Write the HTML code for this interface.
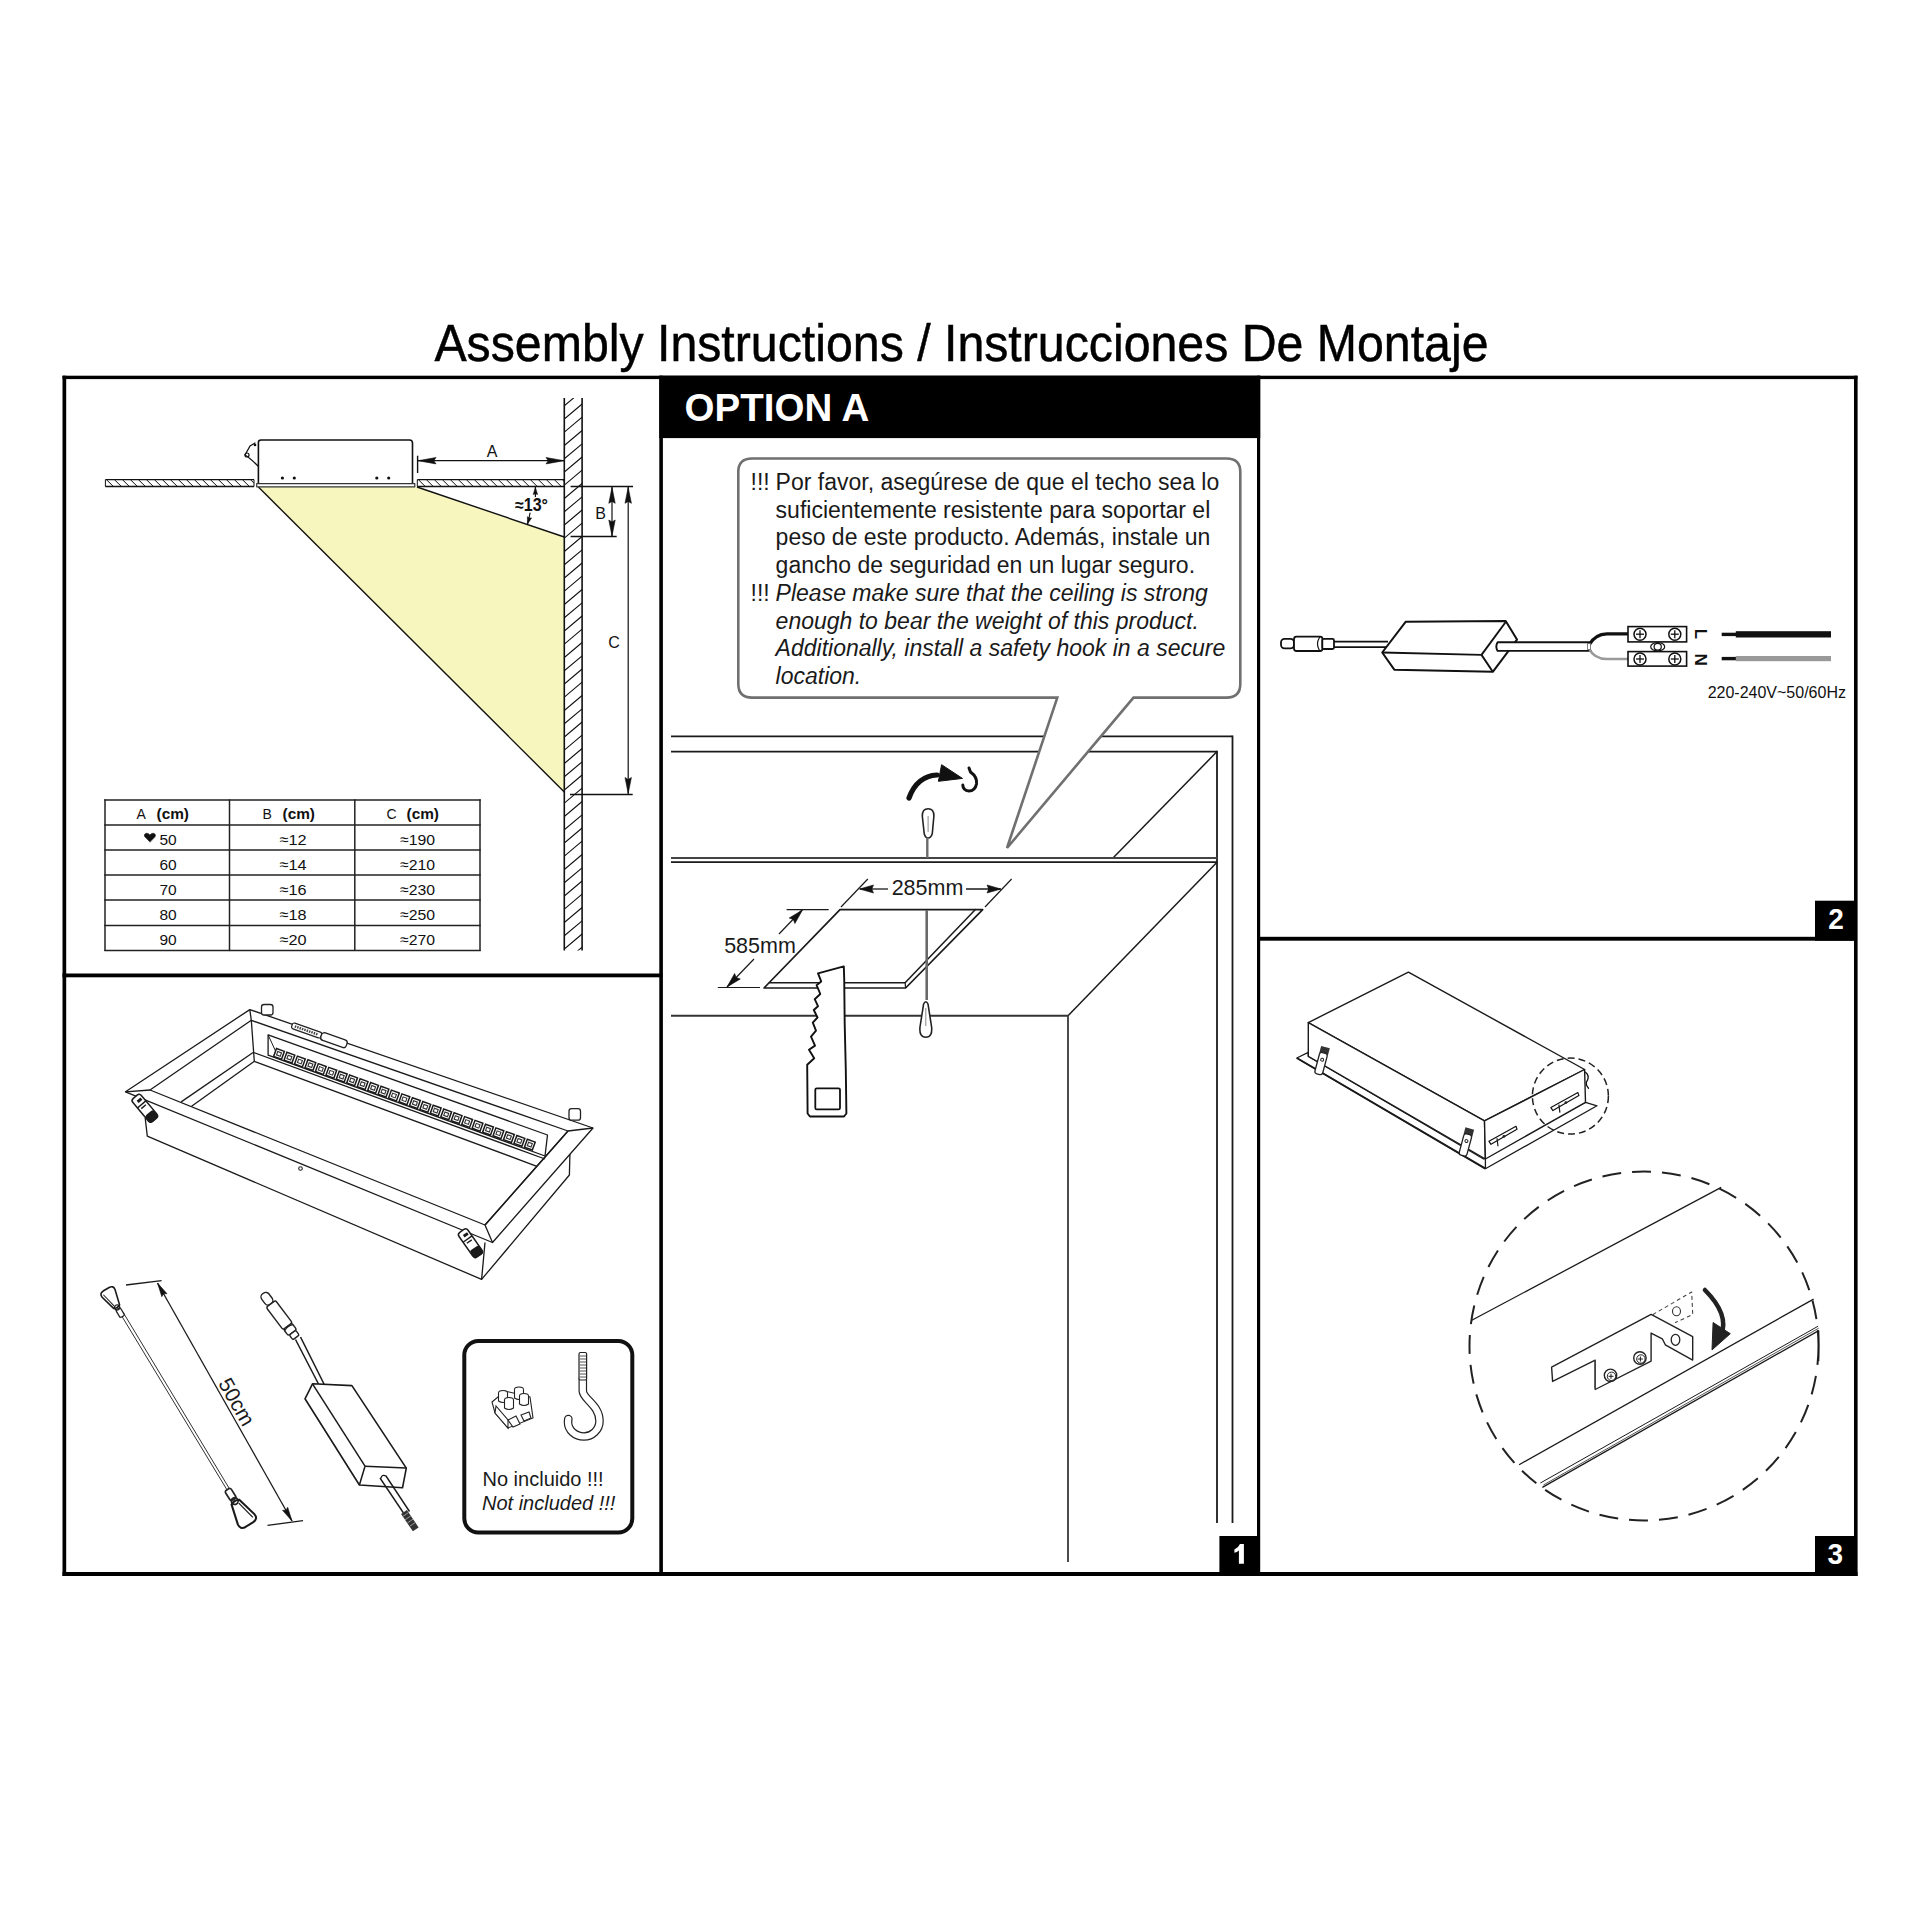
<!DOCTYPE html>
<html><head><meta charset="utf-8">
<style>
html,body{margin:0;padding:0;background:#fff;width:1920px;height:1920px;overflow:hidden}
svg{position:absolute;left:0;top:0;display:block}
text{font-family:"Liberation Sans",sans-serif}
</style></head>
<body>
<svg width="1920" height="1920" viewBox="0 0 1920 1920" xmlns="http://www.w3.org/2000/svg">
<rect x="0" y="0" width="1920" height="1920" fill="#fff"/>
<text x="0" y="0" font-size="48" fill="#000" stroke="#000" stroke-width="0.45" transform="translate(434.4 361.3) scale(1.0058 1.06)">Assembly Instructions / Instrucciones De Montaje</text>
<g fill="#000">
<rect x="62.5" y="375.7" width="1795" height="3.4"/>
<rect x="62.5" y="375.7" width="3.7" height="1200.3"/>
<rect x="1854" y="375.7" width="3.6" height="1200.3"/>
<rect x="62.5" y="1572" width="1795" height="4"/>
<rect x="659.3" y="375.7" width="3.6" height="1200.3"/>
<rect x="1257" y="375.7" width="3.2" height="1200.3"/>
<rect x="62.5" y="973.5" width="600" height="3.8"/>
<rect x="1257" y="936.8" width="600" height="3.9"/>
<rect x="659.3" y="375.7" width="600.9" height="62.4"/>
<rect x="1219.4" y="1536" width="40" height="40"/>
<rect x="1815" y="900.7" width="42" height="40"/>
<rect x="1815" y="1536" width="42" height="40"/>
</g>
<text x="0" y="0" font-size="38" font-weight="bold" fill="#fff" transform="translate(684.6 421.1) scale(1.014 1.04)">OPTION A</text>
<path d="M1238.9 1563.8 L1243.9 1563.8 L1243.9 1544 L1240 1544 Q1238.5 1547.6 1234.4 1549.4 L1234.4 1552.8 Q1237 1552 1238.9 1550.4 Z" fill="#fff"/>
<text x="0" y="0" font-size="28" font-weight="bold" fill="#fff" text-anchor="middle" transform="translate(1836 929.2) scale(1 1.08)">2</text>
<text x="0" y="0" font-size="28" font-weight="bold" fill="#fff" text-anchor="middle" transform="translate(1835.2 1564) scale(1 1.08)">3</text>
<path d="M258.4 487.0 L417.0 487.0 L564.3 537.0 L564.3 792.0 Z" fill="#f7f6bf" stroke="none" stroke-width="0" stroke-linejoin="round" />
<line x1="258.4" y1="487.0" x2="564.3" y2="792.0" stroke="#111" stroke-width="1.4" />
<line x1="417.0" y1="487.0" x2="564.3" y2="537.0" stroke="#111" stroke-width="1.4" />
<clipPath id="ch105"><rect x="105.4" y="479.6" width="148.6" height="6.899999999999977"/></clipPath>
<path d="M98.4 479.6 L105.4 486.5 M106.4 479.6 L113.4 486.5 M114.4 479.6 L121.4 486.5 M122.4 479.6 L129.4 486.5 M130.4 479.6 L137.4 486.5 M138.4 479.6 L145.4 486.5 M146.4 479.6 L153.4 486.5 M154.4 479.6 L161.4 486.5 M162.4 479.6 L169.4 486.5 M170.4 479.6 L177.4 486.5 M178.4 479.6 L185.4 486.5 M186.4 479.6 L193.4 486.5 M194.4 479.6 L201.4 486.5 M202.4 479.6 L209.4 486.5 M210.4 479.6 L217.4 486.5 M218.4 479.6 L225.4 486.5 M226.4 479.6 L233.4 486.5 M234.4 479.6 L241.4 486.5 M242.4 479.6 L249.4 486.5 M250.4 479.6 L257.4 486.5 M258.4 479.6 L265.4 486.5 " stroke="#111" stroke-width="1.0" clip-path="url(#ch105)"/>
<line x1="105.4" y1="479.6" x2="254.0" y2="479.6" stroke="#111" stroke-width="1.3" />
<line x1="105.4" y1="486.5" x2="254.0" y2="486.5" stroke="#111" stroke-width="1.3" />
<line x1="105.4" y1="479.6" x2="105.4" y2="486.5" stroke="#111" stroke-width="1.0" />
<line x1="254.0" y1="479.6" x2="254.0" y2="486.5" stroke="#111" stroke-width="1.0" />
<clipPath id="ch417"><rect x="417.3" y="479.6" width="146.99999999999994" height="6.899999999999977"/></clipPath>
<path d="M410.3 479.6 L417.3 486.5 M418.3 479.6 L425.3 486.5 M426.3 479.6 L433.3 486.5 M434.3 479.6 L441.3 486.5 M442.3 479.6 L449.3 486.5 M450.3 479.6 L457.3 486.5 M458.3 479.6 L465.3 486.5 M466.3 479.6 L473.3 486.5 M474.3 479.6 L481.3 486.5 M482.3 479.6 L489.3 486.5 M490.3 479.6 L497.3 486.5 M498.3 479.6 L505.3 486.5 M506.3 479.6 L513.3 486.5 M514.3 479.6 L521.3 486.5 M522.3 479.6 L529.3 486.5 M530.3 479.6 L537.3 486.5 M538.3 479.6 L545.3 486.5 M546.3 479.6 L553.3 486.5 M554.3 479.6 L561.3 486.5 M562.3 479.6 L569.3 486.5 M570.3 479.6 L577.3 486.5 " stroke="#111" stroke-width="1.0" clip-path="url(#ch417)"/>
<line x1="417.3" y1="479.6" x2="564.3" y2="479.6" stroke="#111" stroke-width="1.3" />
<line x1="417.3" y1="486.5" x2="564.3" y2="486.5" stroke="#111" stroke-width="1.3" />
<line x1="417.3" y1="479.6" x2="417.3" y2="486.5" stroke="#111" stroke-width="1.0" />
<line x1="564.3" y1="479.6" x2="564.3" y2="486.5" stroke="#111" stroke-width="1.0" />
<clipPath id="cwall"><rect x="564.3" y="398" width="17.8" height="552.5"/></clipPath>
<path d="M564.3 392.5 L582.1 377.5 M564.3 405.8 L582.1 390.8 M564.3 419.0 L582.1 404.0 M564.3 432.2 L582.1 417.2 M564.3 445.5 L582.1 430.5 M564.3 458.8 L582.1 443.8 M564.3 472.0 L582.1 457.0 M564.3 485.2 L582.1 470.2 M564.3 498.5 L582.1 483.5 M564.3 511.8 L582.1 496.8 M564.3 525.0 L582.1 510.0 M564.3 538.2 L582.1 523.2 M564.3 551.5 L582.1 536.5 M564.3 564.8 L582.1 549.8 M564.3 578.0 L582.1 563.0 M564.3 591.2 L582.1 576.2 M564.3 604.5 L582.1 589.5 M564.3 617.8 L582.1 602.8 M564.3 631.0 L582.1 616.0 M564.3 644.2 L582.1 629.2 M564.3 657.5 L582.1 642.5 M564.3 670.8 L582.1 655.8 M564.3 684.0 L582.1 669.0 M564.3 697.2 L582.1 682.2 M564.3 710.5 L582.1 695.5 M564.3 723.8 L582.1 708.8 M564.3 737.0 L582.1 722.0 M564.3 750.2 L582.1 735.2 M564.3 763.5 L582.1 748.5 M564.3 776.8 L582.1 761.8 M564.3 790.0 L582.1 775.0 M564.3 803.2 L582.1 788.2 M564.3 816.5 L582.1 801.5 M564.3 829.8 L582.1 814.8 M564.3 843.0 L582.1 828.0 M564.3 856.2 L582.1 841.2 M564.3 869.5 L582.1 854.5 M564.3 882.8 L582.1 867.8 M564.3 896.0 L582.1 881.0 M564.3 909.2 L582.1 894.2 M564.3 922.5 L582.1 907.5 M564.3 935.8 L582.1 920.8 M564.3 949.0 L582.1 934.0 M564.3 962.2 L582.1 947.2 M564.3 975.5 L582.1 960.5 M564.3 988.8 L582.1 973.8 " stroke="#111" stroke-width="1.1" clip-path="url(#cwall)"/>
<line x1="564.3" y1="398.0" x2="564.3" y2="950.5" stroke="#111" stroke-width="1.6" />
<line x1="582.1" y1="398.0" x2="582.1" y2="950.5" stroke="#111" stroke-width="1.6" />
<path d="M258.4 483.6 L258.4 442.5 Q258.4 440 261 440 L409.5 440 Q412.5 440 412.5 443 L412.5 483.6" fill="none" stroke="#111" stroke-width="1.6" stroke-linejoin="round" stroke-linecap="round" />
<path d="M256.7 483.6 L414.8 483.6 L414.8 486.8 L256.7 486.8 Z" fill="#fff" stroke="#333" stroke-width="1.2" stroke-linejoin="round" />
<circle cx="282.4" cy="478" r="1.6" fill="#111"/>
<circle cx="294.3" cy="478" r="1.6" fill="#111"/>
<circle cx="376.8" cy="478" r="1.6" fill="#111"/>
<circle cx="388.7" cy="478" r="1.6" fill="#111"/>
<path d="M258 466 Q250 458 245 455 L250 446 L255 443" fill="none" stroke="#111" stroke-width="1.3" stroke-linejoin="round" stroke-linecap="round" />
<circle cx="247" cy="455" r="2" fill="none" stroke="#111" stroke-width="1.2"/>
<circle cx="255" cy="445" r="1.3" fill="#111"/>
<line x1="417.6" y1="455.7" x2="417.6" y2="473.0" stroke="#111" stroke-width="1.4" />
<line x1="417.6" y1="460.7" x2="564.3" y2="460.7" stroke="#111" stroke-width="1.3" />
<path d="M418.0 460.7 L436.0 457.5 L433.8 460.7 L436.0 463.9 Z" fill="#111" stroke="#111" stroke-width="0.6" stroke-linejoin="round" />
<path d="M564.0 460.7 L546.0 463.9 L548.2 460.7 L546.0 457.5 Z" fill="#111" stroke="#111" stroke-width="0.6" stroke-linejoin="round" />
<text x="492" y="456.5" font-size="16" text-anchor="middle" font-weight="normal" font-style="normal" fill="#111" >A</text>
<line x1="535.4" y1="487.0" x2="535.4" y2="497.0" stroke="#111" stroke-width="1.2" />
<path d="M535.4 487.5 L537.6 494.5 L535.4 493.7 L533.2 494.5 Z" fill="#111" stroke="#111" stroke-width="0.6" stroke-linejoin="round" />
<path d="M530 513 Q529 519 527.5 524" fill="none" stroke="#111" stroke-width="1.2" stroke-linejoin="round" stroke-linecap="round" />
<path d="M527.5 524.0 L527.4 516.7 L529.3 518.1 L531.6 517.9 Z" fill="#111" stroke="#111" stroke-width="0.6" stroke-linejoin="round" />
<text x="515" y="511" font-size="17.5" text-anchor="start" font-weight="bold" font-style="normal" fill="#111" textLength="33" lengthAdjust="spacingAndGlyphs">≈13°</text>
<line x1="570.6" y1="486.5" x2="633.0" y2="486.5" stroke="#111" stroke-width="1.4" />
<line x1="570.6" y1="536.5" x2="616.7" y2="536.5" stroke="#111" stroke-width="1.4" />
<line x1="570.0" y1="794.5" x2="632.7" y2="794.5" stroke="#111" stroke-width="1.4" />
<line x1="612.0" y1="487.0" x2="612.0" y2="536.0" stroke="#111" stroke-width="1.2" />
<path d="M612.0 487.3 L615.2 503.3 L612.0 501.4 L608.8 503.3 Z" fill="#111" stroke="#111" stroke-width="0.6" stroke-linejoin="round" />
<path d="M612.0 536.0 L608.8 520.0 L612.0 521.9 L615.2 520.0 Z" fill="#111" stroke="#111" stroke-width="0.6" stroke-linejoin="round" />
<text x="600.5" y="518.5" font-size="16" text-anchor="middle" font-weight="normal" font-style="normal" fill="#111" >B</text>
<line x1="628.2" y1="487.0" x2="628.2" y2="794.0" stroke="#111" stroke-width="1.2" />
<path d="M628.2 487.3 L631.4 503.3 L628.2 501.4 L625.0 503.3 Z" fill="#111" stroke="#111" stroke-width="0.6" stroke-linejoin="round" />
<path d="M628.2 793.5 L625.0 777.5 L628.2 779.4 L631.4 777.5 Z" fill="#111" stroke="#111" stroke-width="0.6" stroke-linejoin="round" />
<text x="614" y="647.5" font-size="16" text-anchor="middle" font-weight="normal" font-style="normal" fill="#111" >C</text>
<line x1="105.0" y1="799.3" x2="105.0" y2="951.1" stroke="#222" stroke-width="1.5" />
<line x1="229.5" y1="799.3" x2="229.5" y2="951.1" stroke="#222" stroke-width="1.5" />
<line x1="354.8" y1="799.3" x2="354.8" y2="951.1" stroke="#222" stroke-width="1.5" />
<line x1="480.0" y1="799.3" x2="480.0" y2="951.1" stroke="#222" stroke-width="1.5" />
<line x1="104.3" y1="800.0" x2="480.7" y2="800.0" stroke="#222" stroke-width="1.5" />
<line x1="104.3" y1="825.0" x2="480.7" y2="825.0" stroke="#222" stroke-width="1.5" />
<line x1="104.3" y1="850.0" x2="480.7" y2="850.0" stroke="#222" stroke-width="1.5" />
<line x1="104.3" y1="875.0" x2="480.7" y2="875.0" stroke="#222" stroke-width="1.5" />
<line x1="104.3" y1="900.0" x2="480.7" y2="900.0" stroke="#222" stroke-width="1.5" />
<line x1="104.3" y1="925.5" x2="480.7" y2="925.5" stroke="#222" stroke-width="1.5" />
<line x1="104.3" y1="950.4" x2="480.7" y2="950.4" stroke="#222" stroke-width="1.5" />
<text x="136.5" y="819" font-size="14" text-anchor="start" font-weight="normal" font-style="normal" fill="#111" >A</text>
<text x="156.5" y="819.2" font-size="15" text-anchor="start" font-weight="bold" font-style="normal" fill="#111" textLength="32.5" lengthAdjust="spacingAndGlyphs">(cm)</text>
<text x="262.5" y="819" font-size="14" text-anchor="start" font-weight="normal" font-style="normal" fill="#111" >B</text>
<text x="282.5" y="819.2" font-size="15" text-anchor="start" font-weight="bold" font-style="normal" fill="#111" textLength="32.5" lengthAdjust="spacingAndGlyphs">(cm)</text>
<text x="386.5" y="819" font-size="14" text-anchor="start" font-weight="normal" font-style="normal" fill="#111" >C</text>
<text x="406.5" y="819.2" font-size="15" text-anchor="start" font-weight="bold" font-style="normal" fill="#111" textLength="32.5" lengthAdjust="spacingAndGlyphs">(cm)</text>
<text x="168" y="844.6" font-size="15.5" text-anchor="middle" font-weight="normal" font-style="normal" fill="#111" >50</text>
<text x="279.5" y="844.6" font-size="15.5" text-anchor="start" font-weight="normal" font-style="normal" fill="#111" textLength="27" lengthAdjust="spacingAndGlyphs">≈12</text>
<text x="400" y="844.6" font-size="15.5" text-anchor="start" font-weight="normal" font-style="normal" fill="#111" textLength="35" lengthAdjust="spacingAndGlyphs">≈190</text>
<text x="168" y="869.65" font-size="15.5" text-anchor="middle" font-weight="normal" font-style="normal" fill="#111" >60</text>
<text x="279.5" y="869.65" font-size="15.5" text-anchor="start" font-weight="normal" font-style="normal" fill="#111" textLength="27" lengthAdjust="spacingAndGlyphs">≈14</text>
<text x="400" y="869.65" font-size="15.5" text-anchor="start" font-weight="normal" font-style="normal" fill="#111" textLength="35" lengthAdjust="spacingAndGlyphs">≈210</text>
<text x="168" y="894.7" font-size="15.5" text-anchor="middle" font-weight="normal" font-style="normal" fill="#111" >70</text>
<text x="279.5" y="894.7" font-size="15.5" text-anchor="start" font-weight="normal" font-style="normal" fill="#111" textLength="27" lengthAdjust="spacingAndGlyphs">≈16</text>
<text x="400" y="894.7" font-size="15.5" text-anchor="start" font-weight="normal" font-style="normal" fill="#111" textLength="35" lengthAdjust="spacingAndGlyphs">≈230</text>
<text x="168" y="919.75" font-size="15.5" text-anchor="middle" font-weight="normal" font-style="normal" fill="#111" >80</text>
<text x="279.5" y="919.75" font-size="15.5" text-anchor="start" font-weight="normal" font-style="normal" fill="#111" textLength="27" lengthAdjust="spacingAndGlyphs">≈18</text>
<text x="400" y="919.75" font-size="15.5" text-anchor="start" font-weight="normal" font-style="normal" fill="#111" textLength="35" lengthAdjust="spacingAndGlyphs">≈250</text>
<text x="168" y="944.8000000000001" font-size="15.5" text-anchor="middle" font-weight="normal" font-style="normal" fill="#111" >90</text>
<text x="279.5" y="944.8000000000001" font-size="15.5" text-anchor="start" font-weight="normal" font-style="normal" fill="#111" textLength="27" lengthAdjust="spacingAndGlyphs">≈20</text>
<text x="400" y="944.8000000000001" font-size="15.5" text-anchor="start" font-weight="normal" font-style="normal" fill="#111" textLength="35" lengthAdjust="spacingAndGlyphs">≈270</text>
<path d="M149.9 842 L144.6 836.6 Q143.5 834 146.3 833.3 Q148.6 833 149.9 835 Q151.2 833 153.5 833.3 Q156.3 834 155.2 836.6 Z" fill="#111" stroke="#111" stroke-width="0.5" stroke-linejoin="round" stroke-linecap="round" />
<line x1="671.0" y1="736.3" x2="1232.5" y2="736.3" stroke="#1a1a1a" stroke-width="1.8" />
<line x1="1232.5" y1="735.4" x2="1232.5" y2="1523.0" stroke="#1a1a1a" stroke-width="1.8" />
<line x1="671.0" y1="751.6" x2="1217.0" y2="751.6" stroke="#1a1a1a" stroke-width="1.8" />
<line x1="1217.0" y1="750.7" x2="1217.0" y2="1523.0" stroke="#1a1a1a" stroke-width="1.8" />
<line x1="1217.0" y1="751.6" x2="1113.0" y2="858.0" stroke="#1a1a1a" stroke-width="1.5" />
<line x1="671.0" y1="858.0" x2="1217.0" y2="858.0" stroke="#444" stroke-width="1.8" />
<line x1="671.0" y1="862.2" x2="1217.0" y2="862.2" stroke="#1a1a1a" stroke-width="1.8" />
<line x1="1217.0" y1="862.2" x2="1068.0" y2="1015.8" stroke="#1a1a1a" stroke-width="1.5" />
<line x1="671.0" y1="1015.8" x2="1068.0" y2="1015.8" stroke="#333" stroke-width="1.9" />
<line x1="1068.0" y1="1015.8" x2="1068.0" y2="1562.0" stroke="#444" stroke-width="1.9" />
<path d="M982.7 909.6 L840 909.6 L764 988 L905.6 988 L982.7 909.6" fill="none" stroke="#1a1a1a" stroke-width="1.7" stroke-linejoin="round" stroke-linecap="round" />
<path d="M769.5 982.8 L905.1 982.8 L975.4 909.6" fill="none" stroke="#1a1a1a" stroke-width="1.5" stroke-linejoin="round" stroke-linecap="round" />
<line x1="905.1" y1="982.8" x2="905.6" y2="988.0" stroke="#1a1a1a" stroke-width="1.2" />
<line x1="841.0" y1="907.0" x2="867.8" y2="879.0" stroke="#1a1a1a" stroke-width="1.2" />
<line x1="985.0" y1="907.0" x2="1011.6" y2="879.0" stroke="#1a1a1a" stroke-width="1.2" />
<line x1="860.0" y1="889.0" x2="888.0" y2="889.0" stroke="#1a1a1a" stroke-width="1.3" />
<line x1="966.0" y1="889.0" x2="1000.6" y2="889.0" stroke="#1a1a1a" stroke-width="1.3" />
<path d="M859.5 889.0 L873.5 885.0 L871.8 889.0 L873.5 893.0 Z" fill="#111" stroke="#111" stroke-width="0.6" stroke-linejoin="round" />
<path d="M1001.0 889.0 L987.0 893.0 L988.7 889.0 L987.0 885.0 Z" fill="#111" stroke="#111" stroke-width="0.6" stroke-linejoin="round" />
<text x="927.5" y="895" font-size="21.5" text-anchor="middle" font-weight="normal" font-style="normal" fill="#1a1a1a" >285mm</text>
<line x1="786.6" y1="909.7" x2="828.7" y2="909.7" stroke="#1a1a1a" stroke-width="1.2" />
<line x1="717.8" y1="987.5" x2="760.0" y2="987.5" stroke="#1a1a1a" stroke-width="1.2" />
<line x1="802.0" y1="910.0" x2="779.0" y2="934.0" stroke="#1a1a1a" stroke-width="1.2" />
<line x1="754.0" y1="959.0" x2="727.0" y2="987.0" stroke="#1a1a1a" stroke-width="1.2" />
<path d="M802.5 910.0 L794.9 923.5 L793.3 919.5 L789.2 918.0 Z" fill="#111" stroke="#111" stroke-width="0.6" stroke-linejoin="round" />
<path d="M727.0 987.0 L734.6 973.5 L736.2 977.5 L740.3 979.0 Z" fill="#111" stroke="#111" stroke-width="0.6" stroke-linejoin="round" />
<text x="760" y="952.5" font-size="21.5" text-anchor="middle" font-weight="normal" font-style="normal" fill="#1a1a1a" >585mm</text>
<path d="M752 458.5 L1226.5 458.5 Q1240.3 458.5 1240.3 472 L1240.3 684 Q1240.3 697.6 1226.5 697.6 L1133.5 697.6 L1007 848 L1057.3 697.6 L752 697.6 Q738.3 697.6 738.3 684 L738.3 472 Q738.3 458.5 752 458.5 Z" fill="#fff" stroke="#707070" stroke-width="2.6" stroke-linejoin="miter"/>
<text x="750.5" y="490" font-size="23" text-anchor="start" font-weight="normal" font-style="normal" fill="#1a1a1a" >!!!</text>
<text x="750.5" y="600.8" font-size="23" text-anchor="start" font-weight="normal" font-style="normal" fill="#1a1a1a" >!!!</text>
<text x="775.6" y="490" font-size="23" text-anchor="start" font-weight="normal" font-style="normal" fill="#1a1a1a" >Por favor, asegúrese de que el techo sea lo</text>
<text x="775.6" y="517.7" font-size="23" text-anchor="start" font-weight="normal" font-style="normal" fill="#1a1a1a" >suficientemente resistente para soportar el</text>
<text x="775.6" y="545.4" font-size="23" text-anchor="start" font-weight="normal" font-style="normal" fill="#1a1a1a" >peso de este producto. Además, instale un</text>
<text x="775.6" y="573.1" font-size="23" text-anchor="start" font-weight="normal" font-style="normal" fill="#1a1a1a" >gancho de seguridad en un lugar seguro.</text>
<text x="775.6" y="600.8" font-size="23" text-anchor="start" font-weight="normal" font-style="italic" fill="#1a1a1a" >Please make sure that the ceiling is strong</text>
<text x="775.6" y="628.5" font-size="23" text-anchor="start" font-weight="normal" font-style="italic" fill="#1a1a1a" >enough to bear the weight of this product.</text>
<text x="775.6" y="656.2" font-size="23" text-anchor="start" font-weight="normal" font-style="italic" fill="#1a1a1a" >Additionally, install a safety hook in a secure</text>
<text x="775.6" y="683.9" font-size="23" text-anchor="start" font-weight="normal" font-style="italic" fill="#1a1a1a" >location.</text>
<path d="M909 798 Q917 776 937 775" fill="none" stroke="#111" stroke-width="5.2" stroke-linejoin="round" stroke-linecap="round" />
<path d="M941.6 764.7 L962.5 778.4 L938.4 781.3 Z" fill="#111" stroke="#111" stroke-width="1" stroke-linejoin="round" />
<path d="M969 768 L970.5 772 Q977.5 777 976.5 784 Q975 791 969 791 Q963 790.5 962.8 785" fill="none" stroke="#111" stroke-width="3" stroke-linejoin="round" stroke-linecap="round" />
<path d="M922.3 816 Q922.3 808.8 928.1 808.8 Q933.9 808.8 933.9 816 L932.3 833.5 Q931 838 928.1 838 Q925.2 838 924.2 833.5 Z" fill="#fff" stroke="#222" stroke-width="1.6" stroke-linejoin="round" stroke-linecap="round" />
<line x1="928.1" y1="816.0" x2="928.1" y2="832.0" stroke="#888" stroke-width="1.0" />
<line x1="927.3" y1="837.5" x2="927.3" y2="858.0" stroke="#6a6a6a" stroke-width="2.4" />
<line x1="926.7" y1="910.0" x2="926.7" y2="1000.0" stroke="#6a6a6a" stroke-width="2.6" />
<path d="M923.6 1004 Q925.8 999.5 928 1004 L931.6 1027 Q932.6 1037.3 925.8 1037.3 Q919 1037.3 920 1027 Z" fill="#fff" stroke="#222" stroke-width="1.6" stroke-linejoin="round" stroke-linecap="round" />
<line x1="925.8" y1="1008.0" x2="925.8" y2="1026.0" stroke="#888" stroke-width="1.0" />
<path d="M843.8 966.4 L818.0 973.4 L821.2 981.4 L816.6 985.2 L820.3 994.0 L814.7 999.2 L818.0 1006.2 L813.8 1010.0 L817.5 1017.5 L812.8 1022.7 L816.0 1030.6 L811.0 1036.7 L815.0 1045.6 L809.0 1049.8 L814.2 1058.3 L807.2 1064.8 L807.6 1113.5 L810.0 1116.5 L844.0 1116.5 L846.4 1113.5 L845.8 1070.0 L844.7 1024.0 L844.2 978.0 Z" fill="#fff" stroke="#111" stroke-width="1.9" stroke-linejoin="round" />
<rect x="815.3" y="1088.3" width="24.7" height="21.1" rx="1.5" fill="none" stroke="#111" stroke-width="1.8"/>
<rect x="1281" y="638.9" width="13" height="9.4" rx="3.5" fill="#fff" stroke="#111" stroke-width="1.8"/>
<rect x="1294" y="636.6" width="28.5" height="14.4" rx="2.5" fill="#fff" stroke="#111" stroke-width="1.8"/>
<rect x="1322.3" y="638.9" width="11.7" height="10.1" rx="1.5" fill="#fff" stroke="#111" stroke-width="1.8"/>
<path d="M1319.5 637.5 Q1315.5 644 1319.5 650.5" fill="none" stroke="#111" stroke-width="1.2" stroke-linejoin="round" stroke-linecap="round" />
<line x1="1334.0" y1="641.6" x2="1388.0" y2="641.6" stroke="#111" stroke-width="1.8" />
<line x1="1334.0" y1="647.2" x2="1386.0" y2="647.2" stroke="#111" stroke-width="1.8" />
<path d="M1405.6 621.8 L1505.7 621.0 L1517.0 639.6 L1492.8 671.8 L1394.3 669.7 L1382.2 652.5 Z" fill="#fff" stroke="#111" stroke-width="2" stroke-linejoin="round" />
<line x1="1382.2" y1="652.5" x2="1481.5" y2="654.9" stroke="#111" stroke-width="1.9" />
<line x1="1481.5" y1="654.9" x2="1505.7" y2="622.0" stroke="#111" stroke-width="1.9" />
<line x1="1481.5" y1="654.9" x2="1492.8" y2="671.8" stroke="#111" stroke-width="1.9" />
<path d="M1591 642.3 L1497.6 642.3 Q1495 646.6 1497.6 650.9 L1591 650.9" fill="#fff" stroke="#111" stroke-width="1.9" stroke-linejoin="round" stroke-linecap="round" />
<path d="M1589 645 Q1595 634 1607 633.8 L1628.5 633.8" fill="none" stroke="#111" stroke-width="3.2" stroke-linejoin="round" stroke-linecap="round" />
<path d="M1589 648.5 Q1594 659 1607 659 L1628.5 659" fill="none" stroke="#9a9a9a" stroke-width="2.6" stroke-linejoin="round" stroke-linecap="round" />
<rect x="1587.5" y="643.5" width="3" height="6" fill="#fff" stroke="#666" stroke-width="0.8"/>
<rect x="1628" y="626.6" width="58.6" height="15.3" fill="#fff" stroke="#111" stroke-width="1.6"/>
<rect x="1628" y="651.6" width="58.6" height="14.5" fill="#fff" stroke="#111" stroke-width="1.6"/>
<circle cx="1640" cy="634.2" r="6" fill="#fff" stroke="#111" stroke-width="1.5"/>
<line x1="1636.0" y1="634.2" x2="1644.0" y2="634.2" stroke="#111" stroke-width="1.3" />
<line x1="1640.0" y1="630.2" x2="1640.0" y2="638.2" stroke="#111" stroke-width="1.3" />
<circle cx="1674.8" cy="634.2" r="6" fill="#fff" stroke="#111" stroke-width="1.5"/>
<line x1="1670.8" y1="634.2" x2="1678.8" y2="634.2" stroke="#111" stroke-width="1.3" />
<line x1="1674.8" y1="630.2" x2="1674.8" y2="638.2" stroke="#111" stroke-width="1.3" />
<circle cx="1640" cy="659" r="6" fill="#fff" stroke="#111" stroke-width="1.5"/>
<line x1="1636.0" y1="659.0" x2="1644.0" y2="659.0" stroke="#111" stroke-width="1.3" />
<line x1="1640.0" y1="655.0" x2="1640.0" y2="663.0" stroke="#111" stroke-width="1.3" />
<circle cx="1674.8" cy="659" r="6" fill="#fff" stroke="#111" stroke-width="1.5"/>
<line x1="1670.8" y1="659.0" x2="1678.8" y2="659.0" stroke="#111" stroke-width="1.3" />
<line x1="1674.8" y1="655.0" x2="1674.8" y2="663.0" stroke="#111" stroke-width="1.3" />
<ellipse cx="1657.7" cy="646.7" rx="7" ry="4.2" fill="#fff" stroke="#111" stroke-width="1.2"/>
<ellipse cx="1657.7" cy="646.7" rx="3.6" ry="3.3" fill="#fff" stroke="#111" stroke-width="1.2"/>
<text x="0" y="0" font-size="17" font-weight="bold" fill="#111" transform="translate(1694.5 628.7) rotate(90)">L</text>
<text x="0" y="0" font-size="17" font-weight="bold" fill="#111" transform="translate(1694.5 653.5) rotate(90)">N</text>
<line x1="1721.7" y1="634.4" x2="1737.0" y2="634.4" stroke="#111" stroke-width="3.4" />
<rect x="1735.8" y="631.2" width="95.2" height="6.3" fill="#111"/>
<line x1="1721.7" y1="658.6" x2="1737.0" y2="658.6" stroke="#111" stroke-width="3.4" />
<rect x="1735.8" y="656" width="95.2" height="5.2" fill="#999"/>
<text x="1776.8" y="698" font-size="16" text-anchor="middle" font-weight="normal" font-style="normal" fill="#111" >220-240V~50/60Hz</text>
<path d="M1296.8 1058.0 L1308.3 1052.4 L1308.3 1056.3 L1483.6 1159.0 L1585.5 1102.3 L1597.0 1105.8 L1485.4 1168.7 Z" fill="#fff" stroke="#1a1a1a" stroke-width="1.3" stroke-linejoin="round" />
<line x1="1296.8" y1="1058.0" x2="1485.4" y2="1168.7" stroke="#1a1a1a" stroke-width="2.0" />
<path d="M1408.4 972.1 L1308.3 1022.6 L1484.5 1120.9 L1584.6 1069.5 Z" fill="#fff" stroke="#1a1a1a" stroke-width="1.4" stroke-linejoin="round" />
<path d="M1308.3 1022.6 L1308.3 1056.3 L1485.4 1159.0 L1484.5 1120.9 Z" fill="#fff" stroke="#1a1a1a" stroke-width="1.4" stroke-linejoin="round" />
<path d="M1484.5 1120.9 L1485.4 1159.0 L1585.5 1102.3 L1584.6 1069.5 Z" fill="#fff" stroke="#1a1a1a" stroke-width="1.4" stroke-linejoin="round" />
<line x1="1485.4" y1="1159.0" x2="1485.4" y2="1168.7" stroke="#1a1a1a" stroke-width="1.3" />
<g transform="translate(1321.6 1061.6) rotate(15)"><rect x="-4.5" y="-15" width="9" height="7" fill="#333"/><rect x="-4" y="-9" width="8" height="22" rx="2.5" fill="#fff" stroke="#222" stroke-width="1.3"/><circle cx="0" cy="-2" r="1.5" fill="none" stroke="#222" stroke-width="1"/></g>
<g transform="translate(1465.9 1143.0) rotate(15)"><rect x="-4.5" y="-15" width="9" height="7" fill="#333"/><rect x="-4" y="-9" width="8" height="22" rx="2.5" fill="#fff" stroke="#222" stroke-width="1.3"/><circle cx="0" cy="-2" r="1.5" fill="none" stroke="#222" stroke-width="1"/></g>
<path d="M1489.0 1141.3 L1516.0 1126.3 L1517.0 1129.3 L1491.0 1144.3 Z" fill="none" stroke="#111" stroke-width="1.2" stroke-linejoin="round" stroke-linecap="round" />
<line x1="1497.0" y1="1138.3" x2="1498.0" y2="1146.3" stroke="#1a1a1a" stroke-width="1.2" />
<circle cx="1504.0" cy="1136.3" r="1.4" fill="#222"/>
<path d="M1550.9 1107.6 L1577.9 1092.6 L1578.9 1095.6 L1552.9 1110.6 Z" fill="none" stroke="#111" stroke-width="1.2" stroke-linejoin="round" stroke-linecap="round" />
<line x1="1558.9" y1="1104.6" x2="1559.9" y2="1112.6" stroke="#1a1a1a" stroke-width="1.2" />
<circle cx="1565.9" cy="1102.6" r="1.4" fill="#222"/>
<circle cx="1570.4" cy="1096.1" r="38" fill="none" stroke="#222" stroke-width="1.5" stroke-dasharray="7 4"/>
<path d="M1585.5 1072.2 q4 3 2 8 q-3 4 1 8" fill="none" stroke="#111" stroke-width="1.3" stroke-linejoin="round" stroke-linecap="round" />
<circle cx="1644" cy="1346" r="174.5" fill="none" stroke="#222" stroke-width="2" stroke-dasharray="19 11"/>
<line x1="1471.3" y1="1320.5" x2="1721.2" y2="1187.4" stroke="#1a1a1a" stroke-width="1.3" />
<line x1="1519.1" y1="1464.7" x2="1813.6" y2="1299.1" stroke="#1a1a1a" stroke-width="1.3" />
<line x1="1542.4" y1="1487.4" x2="1818.7" y2="1330.6" stroke="#1a1a1a" stroke-width="1.3" />
<line x1="1543.4" y1="1485.0" x2="1818.7" y2="1328.2" stroke="#555" stroke-width="1.0" />
<line x1="1540.4" y1="1483.0" x2="1818.1" y2="1326.2" stroke="#1a1a1a" stroke-width="1.0" />
<line x1="1818.7" y1="1330.6" x2="1818.7" y2="1361.1" stroke="#1a1a1a" stroke-width="1.3" />
<path d="M1551.6 1367.2 L1651.1 1314.4 L1692.7 1336.7 L1692.7 1360.1 L1665.3 1344.8 L1662.3 1338.8 L1651.1 1333.1 L1651.1 1361.1 L1595.2 1389.5 L1595.2 1360.1 L1552.6 1381.4 Z" fill="#fff" stroke="#222" stroke-width="1.4" stroke-linejoin="round" />
<line x1="1595.2" y1="1360.1" x2="1595.2" y2="1388.5" stroke="#444" stroke-width="1.6" />
<circle cx="1610.5" cy="1375.3" r="6.2" fill="#fff" stroke="#222" stroke-width="1.4"/>
<circle cx="1611.5" cy="1376.3" r="4.2" fill="none" stroke="#222" stroke-width="1"/>
<line x1="1608.5" y1="1376.3" x2="1613.5" y2="1376.3" stroke="#1a1a1a" stroke-width="1" />
<line x1="1611.0" y1="1373.8" x2="1611.0" y2="1378.8" stroke="#1a1a1a" stroke-width="1" />
<circle cx="1639.9" cy="1358.0" r="6.2" fill="#fff" stroke="#222" stroke-width="1.4"/>
<circle cx="1640.9" cy="1359.0" r="4.2" fill="none" stroke="#222" stroke-width="1"/>
<line x1="1637.9" y1="1359.0" x2="1642.9" y2="1359.0" stroke="#1a1a1a" stroke-width="1" />
<line x1="1640.4" y1="1356.5" x2="1640.4" y2="1361.5" stroke="#1a1a1a" stroke-width="1" />
<ellipse cx="1675.5" cy="1339.8" rx="4.3" ry="5.5" fill="#fff" stroke="#222" stroke-width="1.3"/>
<ellipse cx="1676.5" cy="1311.3" rx="4" ry="4.5" fill="none" stroke="#333" stroke-width="1.1"/>
<path d="M1653.1 1314.4 L1691.7 1292.0 L1692.7 1314.4 L1675.5 1322.5" fill="none" stroke="#444" stroke-width="1.1" stroke-linejoin="round" stroke-linecap="round" stroke-dasharray="3 4"/>
<path d="M1704.9 1290.0 Q1729.3 1314.4 1721.2 1334.7" fill="none" stroke="#222" stroke-width="4.5" stroke-linejoin="round" stroke-linecap="round" />
<path d="M1712.0 1349.9 L1713.1 1322.5 L1730.3 1333.7 Z" fill="#222" stroke="#222" stroke-width="1" stroke-linejoin="round" />
<path d="M145.2 1118.0 L147.3 1136.1 L481.6 1279.4 L569.4 1175.0 L570.0 1150.0" fill="#fff" stroke="#1a1a1a" stroke-width="1.3" stroke-linejoin="round" />
<line x1="485.0" y1="1242.5" x2="481.6" y2="1279.4" stroke="#1a1a1a" stroke-width="1.3" />
<path d="M125.5 1091.8 L249.8 1009.6 L593.0 1128.0 L492.5 1242.5 Z" fill="#fff" stroke="#1a1a1a" stroke-width="1.3" stroke-linejoin="round" />
<path d="M150.0 1090.0 L251.3 1020.3 L568.0 1131.0 L485.0 1225.0 Z" fill="#fff" stroke="#1a1a1a" stroke-width="1.3" stroke-linejoin="round" />
<line x1="125.5" y1="1091.8" x2="150.0" y2="1090.0" stroke="#1a1a1a" stroke-width="1.3" />
<line x1="249.8" y1="1009.6" x2="251.3" y2="1020.3" stroke="#1a1a1a" stroke-width="1.3" />
<line x1="593.0" y1="1128.0" x2="568.0" y2="1131.0" stroke="#1a1a1a" stroke-width="1.3" />
<line x1="492.5" y1="1242.5" x2="485.0" y2="1225.0" stroke="#1a1a1a" stroke-width="1.3" />
<line x1="251.3" y1="1020.3" x2="254.3" y2="1061.3" stroke="#1a1a1a" stroke-width="1.3" />
<line x1="254.3" y1="1061.3" x2="536.9" y2="1166.3" stroke="#1a1a1a" stroke-width="1.3" />
<line x1="568.0" y1="1131.0" x2="536.9" y2="1166.3" stroke="#1a1a1a" stroke-width="1.3" />
<line x1="536.9" y1="1166.3" x2="485.0" y2="1225.0" stroke="#1a1a1a" stroke-width="1.3" />
<line x1="253.1" y1="1052.5" x2="181.2" y2="1101.9" stroke="#1a1a1a" stroke-width="1.3" />
<line x1="254.4" y1="1061.2" x2="191.6" y2="1106.2" stroke="#1a1a1a" stroke-width="1.3" />
<line x1="253.5" y1="1052.5" x2="545.0" y2="1159.0" stroke="#1a1a1a" stroke-width="1.3" />
<path d="M268.1 1034.9 L547.5 1135.0 L545.0 1156.0 L268.1 1055.2 Z" fill="#fff" stroke="#1a1a1a" stroke-width="1.3" stroke-linejoin="round" />
<line x1="268.1" y1="1034.9" x2="276.0" y2="1052.0" stroke="#1a1a1a" stroke-width="1.0" />
<g transform="translate(276.5 1048.5) rotate(20)"><rect x="0" y="0" width="8.4" height="8.4" fill="#fff" stroke="#1a1a1a" stroke-width="1.5"/><rect x="2.2" y="2.4" width="4" height="3.6" fill="none" stroke="#333" stroke-width="1.1"/></g>
<g transform="translate(286.9 1052.3) rotate(20)"><rect x="0" y="0" width="8.4" height="8.4" fill="#fff" stroke="#1a1a1a" stroke-width="1.5"/><rect x="2.2" y="2.4" width="4" height="3.6" fill="none" stroke="#333" stroke-width="1.1"/></g>
<g transform="translate(297.4 1056.1) rotate(20)"><rect x="0" y="0" width="8.4" height="8.4" fill="#fff" stroke="#1a1a1a" stroke-width="1.5"/><rect x="2.2" y="2.4" width="4" height="3.6" fill="none" stroke="#333" stroke-width="1.1"/></g>
<g transform="translate(307.9 1059.8) rotate(20)"><rect x="0" y="0" width="8.4" height="8.4" fill="#fff" stroke="#1a1a1a" stroke-width="1.5"/><rect x="2.2" y="2.4" width="4" height="3.6" fill="none" stroke="#333" stroke-width="1.1"/></g>
<g transform="translate(318.3 1063.6) rotate(20)"><rect x="0" y="0" width="8.4" height="8.4" fill="#fff" stroke="#1a1a1a" stroke-width="1.5"/><rect x="2.2" y="2.4" width="4" height="3.6" fill="none" stroke="#333" stroke-width="1.1"/></g>
<g transform="translate(328.8 1067.4) rotate(20)"><rect x="0" y="0" width="8.4" height="8.4" fill="#fff" stroke="#1a1a1a" stroke-width="1.5"/><rect x="2.2" y="2.4" width="4" height="3.6" fill="none" stroke="#333" stroke-width="1.1"/></g>
<g transform="translate(339.2 1071.2) rotate(20)"><rect x="0" y="0" width="8.4" height="8.4" fill="#fff" stroke="#1a1a1a" stroke-width="1.5"/><rect x="2.2" y="2.4" width="4" height="3.6" fill="none" stroke="#333" stroke-width="1.1"/></g>
<g transform="translate(349.6 1075.0) rotate(20)"><rect x="0" y="0" width="8.4" height="8.4" fill="#fff" stroke="#1a1a1a" stroke-width="1.5"/><rect x="2.2" y="2.4" width="4" height="3.6" fill="none" stroke="#333" stroke-width="1.1"/></g>
<g transform="translate(360.1 1078.8) rotate(20)"><rect x="0" y="0" width="8.4" height="8.4" fill="#fff" stroke="#1a1a1a" stroke-width="1.5"/><rect x="2.2" y="2.4" width="4" height="3.6" fill="none" stroke="#333" stroke-width="1.1"/></g>
<g transform="translate(370.6 1082.5) rotate(20)"><rect x="0" y="0" width="8.4" height="8.4" fill="#fff" stroke="#1a1a1a" stroke-width="1.5"/><rect x="2.2" y="2.4" width="4" height="3.6" fill="none" stroke="#333" stroke-width="1.1"/></g>
<g transform="translate(381.0 1086.3) rotate(20)"><rect x="0" y="0" width="8.4" height="8.4" fill="#fff" stroke="#1a1a1a" stroke-width="1.5"/><rect x="2.2" y="2.4" width="4" height="3.6" fill="none" stroke="#333" stroke-width="1.1"/></g>
<g transform="translate(391.4 1090.1) rotate(20)"><rect x="0" y="0" width="8.4" height="8.4" fill="#fff" stroke="#1a1a1a" stroke-width="1.5"/><rect x="2.2" y="2.4" width="4" height="3.6" fill="none" stroke="#333" stroke-width="1.1"/></g>
<g transform="translate(401.9 1093.9) rotate(20)"><rect x="0" y="0" width="8.4" height="8.4" fill="#fff" stroke="#1a1a1a" stroke-width="1.5"/><rect x="2.2" y="2.4" width="4" height="3.6" fill="none" stroke="#333" stroke-width="1.1"/></g>
<g transform="translate(412.4 1097.7) rotate(20)"><rect x="0" y="0" width="8.4" height="8.4" fill="#fff" stroke="#1a1a1a" stroke-width="1.5"/><rect x="2.2" y="2.4" width="4" height="3.6" fill="none" stroke="#333" stroke-width="1.1"/></g>
<g transform="translate(422.8 1101.5) rotate(20)"><rect x="0" y="0" width="8.4" height="8.4" fill="#fff" stroke="#1a1a1a" stroke-width="1.5"/><rect x="2.2" y="2.4" width="4" height="3.6" fill="none" stroke="#333" stroke-width="1.1"/></g>
<g transform="translate(433.2 1105.2) rotate(20)"><rect x="0" y="0" width="8.4" height="8.4" fill="#fff" stroke="#1a1a1a" stroke-width="1.5"/><rect x="2.2" y="2.4" width="4" height="3.6" fill="none" stroke="#333" stroke-width="1.1"/></g>
<g transform="translate(443.7 1109.0) rotate(20)"><rect x="0" y="0" width="8.4" height="8.4" fill="#fff" stroke="#1a1a1a" stroke-width="1.5"/><rect x="2.2" y="2.4" width="4" height="3.6" fill="none" stroke="#333" stroke-width="1.1"/></g>
<g transform="translate(454.1 1112.8) rotate(20)"><rect x="0" y="0" width="8.4" height="8.4" fill="#fff" stroke="#1a1a1a" stroke-width="1.5"/><rect x="2.2" y="2.4" width="4" height="3.6" fill="none" stroke="#333" stroke-width="1.1"/></g>
<g transform="translate(464.6 1116.6) rotate(20)"><rect x="0" y="0" width="8.4" height="8.4" fill="#fff" stroke="#1a1a1a" stroke-width="1.5"/><rect x="2.2" y="2.4" width="4" height="3.6" fill="none" stroke="#333" stroke-width="1.1"/></g>
<g transform="translate(475.0 1120.4) rotate(20)"><rect x="0" y="0" width="8.4" height="8.4" fill="#fff" stroke="#1a1a1a" stroke-width="1.5"/><rect x="2.2" y="2.4" width="4" height="3.6" fill="none" stroke="#333" stroke-width="1.1"/></g>
<g transform="translate(485.5 1124.2) rotate(20)"><rect x="0" y="0" width="8.4" height="8.4" fill="#fff" stroke="#1a1a1a" stroke-width="1.5"/><rect x="2.2" y="2.4" width="4" height="3.6" fill="none" stroke="#333" stroke-width="1.1"/></g>
<g transform="translate(495.9 1127.9) rotate(20)"><rect x="0" y="0" width="8.4" height="8.4" fill="#fff" stroke="#1a1a1a" stroke-width="1.5"/><rect x="2.2" y="2.4" width="4" height="3.6" fill="none" stroke="#333" stroke-width="1.1"/></g>
<g transform="translate(506.4 1131.7) rotate(20)"><rect x="0" y="0" width="8.4" height="8.4" fill="#fff" stroke="#1a1a1a" stroke-width="1.5"/><rect x="2.2" y="2.4" width="4" height="3.6" fill="none" stroke="#333" stroke-width="1.1"/></g>
<g transform="translate(516.9 1135.5) rotate(20)"><rect x="0" y="0" width="8.4" height="8.4" fill="#fff" stroke="#1a1a1a" stroke-width="1.5"/><rect x="2.2" y="2.4" width="4" height="3.6" fill="none" stroke="#333" stroke-width="1.1"/></g>
<g transform="translate(527.3 1139.3) rotate(20)"><rect x="0" y="0" width="8.4" height="8.4" fill="#fff" stroke="#1a1a1a" stroke-width="1.5"/><rect x="2.2" y="2.4" width="4" height="3.6" fill="none" stroke="#333" stroke-width="1.1"/></g>
<rect x="261.5" y="1004.5" width="11.5" height="10.5" rx="2.5" fill="#fff" stroke="#222" stroke-width="1.3"/>
<rect x="569" y="1108.7" width="11.5" height="11.5" rx="2.5" fill="#fff" stroke="#222" stroke-width="1.3"/>
<g transform="translate(293 1022.5) rotate(19.5)"><rect x="0" y="0" width="31" height="6" rx="2" fill="#fff" stroke="#222" stroke-width="1.2"/><path d="M3 3 L28 3" stroke="#444" stroke-width="2.5" stroke-dasharray="1.5 1"/><rect x="31" y="-1" width="27" height="8" rx="3" fill="#fff" stroke="#222" stroke-width="1.3"/></g>
<g transform="translate(145.5 1109) rotate(-40)"><rect x="-5.5" y="-16" width="11" height="30" rx="3" fill="#fff" stroke="#1a1a1a" stroke-width="1.5"/><path d="M-5.5 -6 L5.5 -6 M-3 -3 L3 -3" stroke="#1a1a1a" stroke-width="1.4"/><rect x="-5.5" y="5" width="11" height="9.5" rx="2.5" fill="#1a1a1a"/><rect x="-1.5" y="-12" width="5" height="3" fill="#1a1a1a"/></g>
<g transform="translate(471 1244) rotate(-35)"><rect x="-5.5" y="-16" width="11" height="30" rx="3" fill="#fff" stroke="#1a1a1a" stroke-width="1.5"/><path d="M-5.5 -6 L5.5 -6 M-3 -3 L3 -3" stroke="#1a1a1a" stroke-width="1.4"/><rect x="-5.5" y="5" width="11" height="9.5" rx="2.5" fill="#1a1a1a"/><rect x="-1.5" y="-12" width="5" height="3" fill="#1a1a1a"/></g>
<circle cx="300.5" cy="1168.5" r="1.8" fill="none" stroke="#222" stroke-width="1.1"/>
<line x1="120.2" y1="1313.5" x2="228.0" y2="1491.5" stroke="#333" stroke-width="1.0" />
<line x1="123.2" y1="1312.5" x2="230.5" y2="1490.5" stroke="#333" stroke-width="1.0" />
<g transform="translate(122.5 1316.5) rotate(239) scale(1)"><rect x="0" y="-2.6" width="9" height="5.2" rx="1.5" fill="#fff" stroke="#222" stroke-width="1.3"/><circle cx="10.5" cy="0" r="2.6" fill="none" stroke="#222" stroke-width="1.3"/><path d="M11.5 -3.5 L27 -7.5 Q31.5 -8.2 31.8 -3.5 L31.8 3.5 Q31.5 8.2 27 7.5 L11.5 3.5 Q9.5 0 11.5 -3.5 Z" fill="none" stroke="#1a1a1a" stroke-width="1.6"/><path d="M13.5 -1.8 L28.5 -5.2" fill="none" stroke="#1a1a1a" stroke-width="1.0"/></g>
<g transform="translate(227.5 1489.5) rotate(58) scale(1.3)"><rect x="0" y="-2.6" width="9" height="5.2" rx="1.5" fill="#fff" stroke="#222" stroke-width="1.3"/><circle cx="10.5" cy="0" r="2.6" fill="none" stroke="#222" stroke-width="1.3"/><path d="M11.5 -3.5 L27 -7.5 Q31.5 -8.2 31.8 -3.5 L31.8 3.5 Q31.5 8.2 27 7.5 L11.5 3.5 Q9.5 0 11.5 -3.5 Z" fill="none" stroke="#1a1a1a" stroke-width="1.6"/><path d="M13.5 -1.8 L28.5 -5.2" fill="none" stroke="#1a1a1a" stroke-width="1.0"/></g>
<line x1="126.0" y1="1285.0" x2="161.6" y2="1280.6" stroke="#1a1a1a" stroke-width="1.3" />
<line x1="267.5" y1="1525.4" x2="303.0" y2="1520.6" stroke="#1a1a1a" stroke-width="1.3" />
<line x1="157.5" y1="1283.0" x2="292.0" y2="1521.0" stroke="#1a1a1a" stroke-width="1.3" />
<path d="M157.5 1283.0 L167.0 1293.7 L163.6 1293.7 L161.8 1296.7 Z" fill="#111" stroke="#111" stroke-width="0.6" stroke-linejoin="round" />
<path d="M292.0 1521.0 L282.5 1510.3 L285.9 1510.3 L287.7 1507.3 Z" fill="#111" stroke="#111" stroke-width="0.6" stroke-linejoin="round" />
<text x="0" y="0" font-size="21" text-anchor="middle" fill="#1a1a1a" transform="translate(230.5 1405.5) rotate(60.4)">50cm</text>
<g transform="translate(263 1293.5) rotate(53)"><rect x="0" y="-4.5" width="13" height="9" rx="4" fill="#fff" stroke="#222" stroke-width="1.4"/><rect x="13" y="-5.8" width="28" height="11.6" rx="2" fill="#fff" stroke="#222" stroke-width="1.4"/><rect x="41" y="-5.2" width="8" height="10.4" rx="2" fill="#fff" stroke="#222" stroke-width="1.4"/><path d="M43 -5 Q40.5 0 43 5" fill="none" stroke="#222" stroke-width="1.1"/><rect x="49" y="-4" width="6" height="8" rx="1.5" fill="#fff" stroke="#222" stroke-width="1.4"/></g>
<line x1="295.5" y1="1339.5" x2="318.5" y2="1384.0" stroke="#1a1a1a" stroke-width="1.5" />
<line x1="300.5" y1="1337.0" x2="324.0" y2="1384.0" stroke="#1a1a1a" stroke-width="1.5" />
<path d="M312.5 1383.8 L351.9 1385.6 L406.3 1468.1 L402.5 1487.8 L359.4 1485.0 L305.0 1398.8 Z" fill="#fff" stroke="#1a1a1a" stroke-width="1.6" stroke-linejoin="round" />
<line x1="312.5" y1="1383.8" x2="365.0" y2="1466.2" stroke="#1a1a1a" stroke-width="1.5" />
<line x1="365.0" y1="1466.2" x2="406.3" y2="1468.1" stroke="#1a1a1a" stroke-width="1.5" />
<line x1="365.0" y1="1466.2" x2="359.4" y2="1485.0" stroke="#1a1a1a" stroke-width="1.5" />
<line x1="380.0" y1="1478.0" x2="403.5" y2="1513.0" stroke="#1a1a1a" stroke-width="1.4" />
<line x1="386.0" y1="1476.0" x2="409.5" y2="1511.5" stroke="#1a1a1a" stroke-width="1.4" />
<path d="M381 1478 Q382 1474 386 1476" fill="none" stroke="#111" stroke-width="1.2" stroke-linejoin="round" stroke-linecap="round" />
<g transform="translate(404 1512) rotate(56)"><rect x="0" y="-3.5" width="21" height="7" fill="#333"/><path d="M3 -3.5 V3.5 M7 -3.5 V3.5 M11 -3.5 V3.5 M15 -3.5 V3.5" stroke="#999" stroke-width="0.9"/></g>
<rect x="464.3" y="1341" width="168" height="191.5" rx="14" fill="#fff" stroke="#111" stroke-width="4"/>
<text x="482.5" y="1485.5" font-size="20" text-anchor="start" font-weight="normal" font-style="normal" fill="#1a1a1a" >No incluido !!!</text>
<text x="482" y="1509.5" font-size="20" text-anchor="start" font-weight="normal" font-style="italic" fill="#1a1a1a" >Not included !!!</text>
<path d="M582.8 1379 L582.8 1391 C582.8 1399 599.5 1405 599.5 1421 C599.5 1430 592 1436.5 584 1436.5 C575 1436.5 568 1430 568 1422 L568.3 1419" fill="none" stroke="#222" stroke-width="8.6" stroke-linecap="round"/>
<path d="M582.8 1379 L582.8 1391 C582.8 1399 599.5 1405 599.5 1421 C599.5 1430 592 1436.5 584 1436.5 C575 1436.5 568 1430 568 1422 L568.3 1419" fill="none" stroke="#fff" stroke-width="6.2" stroke-linecap="round"/>
<rect x="579" y="1352.5" width="7.6" height="27.5" rx="1.5" fill="#fff" stroke="#222" stroke-width="1.2"/>
<path d="M579.5 1356 H586 M579.5 1359 H586 M579.5 1362 H586 M579.5 1365 H586 M579.5 1368 H586 M579.5 1371 H586 M579.5 1374 H586 M579.5 1377 H586" stroke="#555" stroke-width="1"/>
<g stroke="#222" stroke-width="1.1" fill="#fff"><path d="M492 1402 L505 1391 L530 1397 L533 1418 L508 1428 L495 1413 Z"/><path d="M495 1413 L508 1428 L508 1420 L496 1406 Z"/><ellipse cx="503" cy="1393" rx="4.5" ry="2.5"/><path d="M498.5 1393 V1401 Q503 1404 507.5 1401 V1393"/><ellipse cx="519" cy="1389.5" rx="4.5" ry="2.5"/><path d="M514.5 1389.5 V1398 Q519 1401 523.5 1398 V1389.5"/><ellipse cx="509" cy="1400" rx="4.5" ry="2.5"/><path d="M504.5 1400 V1408 Q509 1411 513.5 1408 V1400"/><ellipse cx="524" cy="1396" rx="4.5" ry="2.5"/><path d="M519.5 1396 V1404 Q524 1407 528.5 1404 V1396"/><path d="M508 1420 L513 1427 L520 1424 L516 1416 Z M521 1415 L524 1421 L531 1418 L529 1412 Z"/></g>
</svg>
</body></html>
